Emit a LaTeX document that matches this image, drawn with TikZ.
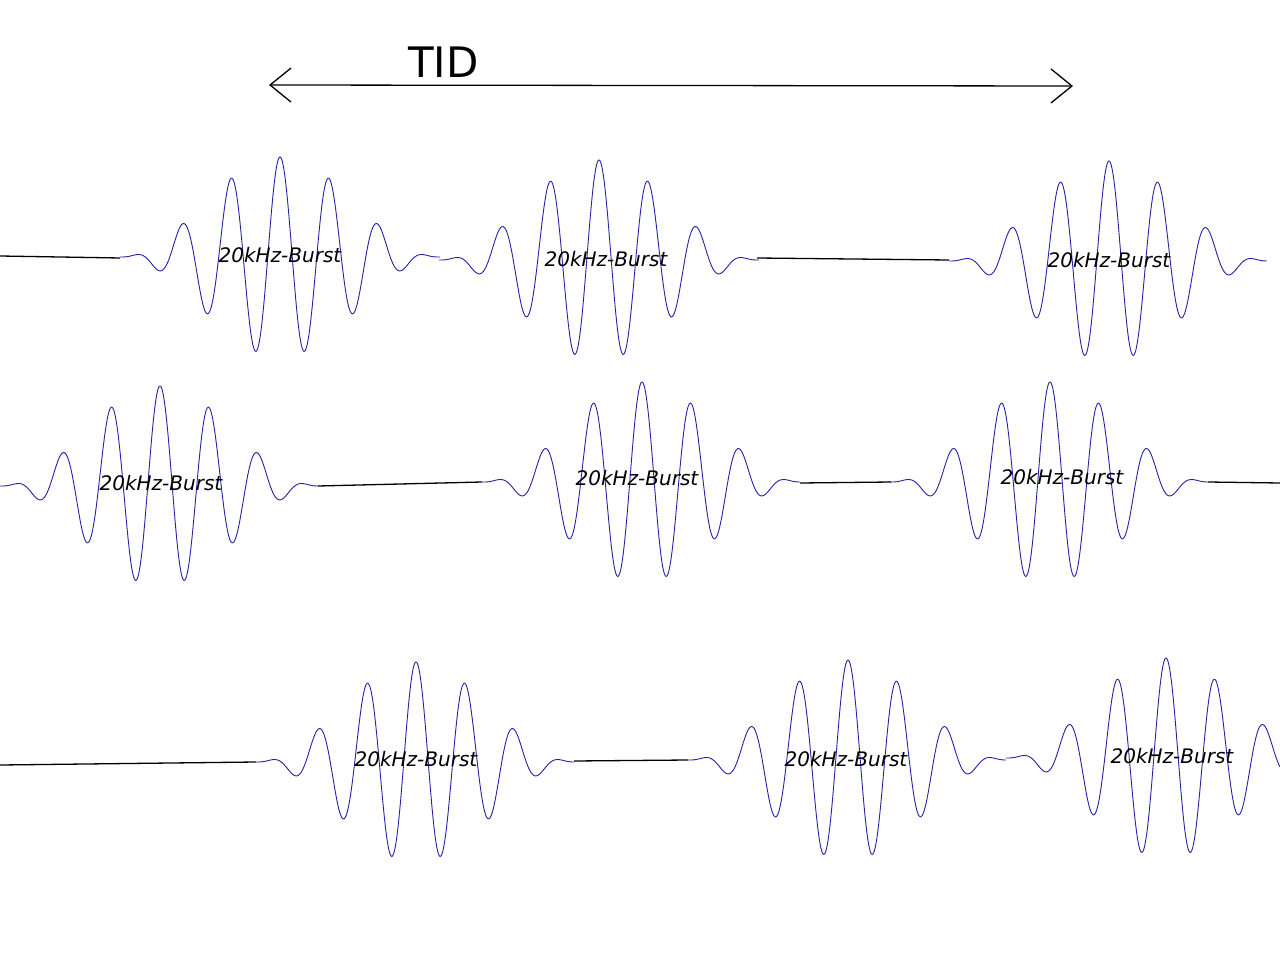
\documentclass[tikz,border=0pt]{standalone}
\usepackage{fontspec}
\usetikzlibrary{arrows.meta}
\newfontfamily\labfont{DejaVu Sans}
\definecolor{wave}{RGB}{35,35,165}
\begin{document}
\begin{tikzpicture}[x=1pt,y=-1pt,
  wavestyle/.style={draw=wave,line width=0.9pt},
  baseline line/.style={draw=black,line width=1.3pt},
  burstlabel/.style={font=\labfont\itshape\fontsize{20}{24}\selectfont,inner sep=0pt},
  tidlabel/.style={font=\labfont\fontsize{42}{48}\selectfont,inner sep=0pt}]
\useasboundingbox (0,0) rectangle (1280,960);
% burst macro: center, baseline, dmin, dmax (Hann-windowed cosine)
\newcommand\myburst[4]{%
  \draw[wavestyle] plot[domain=#3:#4,samples=500,smooth]
    ({#1+\x},{#2-100*cos(0.5625*\x)*cos(0.5625*\x)*cos(7.3469*\x)});}
% row 1
\myburst{280}{257}{-160}{160}
\myburst{599}{260}{-160}{160}
\myburst{1109}{261}{-160}{158}
% row 2
\myburst{160}{486}{-160}{158}
\myburst{642}{482}{-160}{158}
\myburst{1050}{482}{-160}{158}
% row 3
\myburst{416}{762}{-160}{158}
\myburst{848}{760}{-160}{158}
\myburst{1166}{758}{-160}{114}
% connecting baselines
\coordinate (a1) at (0,256); \coordinate (a2) at (120,258);
\coordinate (b1) at (757,258); \coordinate (b2) at (949,260);
\coordinate (c1) at (318,486); \coordinate (c2) at (482,482);
\coordinate (d1) at (800,483); \coordinate (d2) at (891,482);
\coordinate (e1) at (1208,482); \coordinate (e2) at (1280,483);
\coordinate (f1) at (0,765); \coordinate (f2) at (256,762);
\coordinate (g1) at (574,761); \coordinate (g2) at (688,760);
\draw[baseline line] (a1) -- (a2);
\draw[baseline line] (b1) -- (b2);
\draw[baseline line] (c1) -- (c2);
\draw[baseline line] (d1) -- (d2);
\draw[baseline line] (e1) -- (e2);
\draw[baseline line] (f1) -- (f2);
\draw[baseline line] (g1) -- (g2);
% labels
\node[burstlabel] (l1) at (280,255.5) {20kHz-Burst};
\node[burstlabel] (l2) at (606,259.5) {20kHz-Burst};
\node[burstlabel] (l3) at (1109,260.5) {20kHz-Burst};
\node[burstlabel] (l4) at (161,483.5) {20kHz-Burst};
\node[burstlabel] (l5) at (637,478.5) {20kHz-Burst};
\node[burstlabel] (l6) at (1062,477.5) {20kHz-Burst};
\node[burstlabel] (l7) at (416,759.5) {20kHz-Burst};
\node[burstlabel] (l8) at (846,759.5) {20kHz-Burst};
\node[burstlabel] (l9) at (1172,756.5) {20kHz-Burst};
% TID arrow
\node[tidlabel] (tid) at (443.5,62) {TID};
\coordinate (tl) at (269,85);
\coordinate (tr) at (1073,86);
\draw[line width=1.3pt,{Straight Barb[length=21pt,width=34pt,line width=1.3pt]}-{Straight Barb[length=21pt,width=34pt,line width=1.3pt]}] (tl) -- (tr);
\end{tikzpicture}
\end{document}
